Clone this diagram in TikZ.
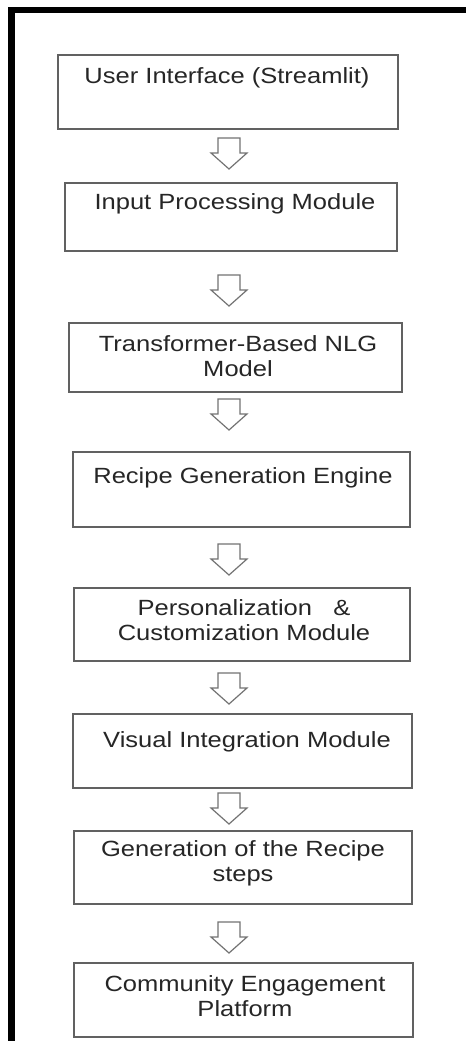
\documentclass[tikz,border=0pt]{standalone}
\usepackage{fontspec}
\setmainfont{Liberation Sans}[FakeStretch=1.16]
\begin{document}
\begin{tikzpicture}[x=1pt,y=-1pt,
  box/.style={draw=black!62, line width=1.7pt, inner sep=0pt},
  lbl/.style={align=center, inner sep=0pt, text=black!85, font=\fontsize{22}{25}\selectfont},
  arrowline/.style={draw=black!55, line width=1.2pt, line join=miter},
  downarrow/.pic={\draw[arrowline] (-11,0) -- (11,0) -- (11,15) -- (18,15) -- (0,31) -- (-18,15) -- (-11,15) -- cycle;}
]
\useasboundingbox (0,0) rectangle (466,1041);
\fill[white] (0,0) rectangle (466,1041);
% frame
\draw[line width=6.5pt] (11.5,1041) -- (11.5,10) -- (466,10);
% boxes
\node[box, minimum width=340, minimum height=74] (b1) at (228,92) {};
\node[box, minimum width=332, minimum height=68] (b2) at (231,217) {};
\node[box, minimum width=333, minimum height=69] (b3) at (235.5,357.5) {};
\node[box, minimum width=337, minimum height=75] (b4) at (241.5,489.5) {};
\node[box, minimum width=336, minimum height=73] (b5) at (242,624.5) {};
\node[box, minimum width=339, minimum height=74] (b6) at (242.5,751) {};
\node[box, minimum width=338, minimum height=73] (b7) at (243,867.5) {};
\node[box, minimum width=339, minimum height=74] (b8) at (243.5,1000) {};
% texts
\node[lbl] (t1) at (227,78) {User Interface (Streamlit)};
\node[lbl] (t2) at (235,204) {Input Processing Module};
\node[lbl] (t3) at (238,356) {Transformer-Based NLG\\Model};
\node[lbl] (t4) at (243,478) {Recipe Generation Engine};
\node[lbl] (t5) at (244,620) {Personalization\ \ \ \&\\Customization Module};
\node[lbl] (t6) at (247,742) {Visual Integration Module};
\node[lbl] (t7) at (243,863) {Generation of the Recipe\\steps};
\node[lbl] (t8) at (245,996) {Community Engagement\\Platform};
% arrows
\pic (a1) at (229,138) {downarrow};
\pic (a2) at (229,275) {downarrow};
\pic (a3) at (229,399) {downarrow};
\pic (a4) at (229,544) {downarrow};
\pic (a5) at (229,673) {downarrow};
\pic (a6) at (229,793) {downarrow};
\pic (a7) at (229,922) {downarrow};
\end{tikzpicture}
\end{document}
